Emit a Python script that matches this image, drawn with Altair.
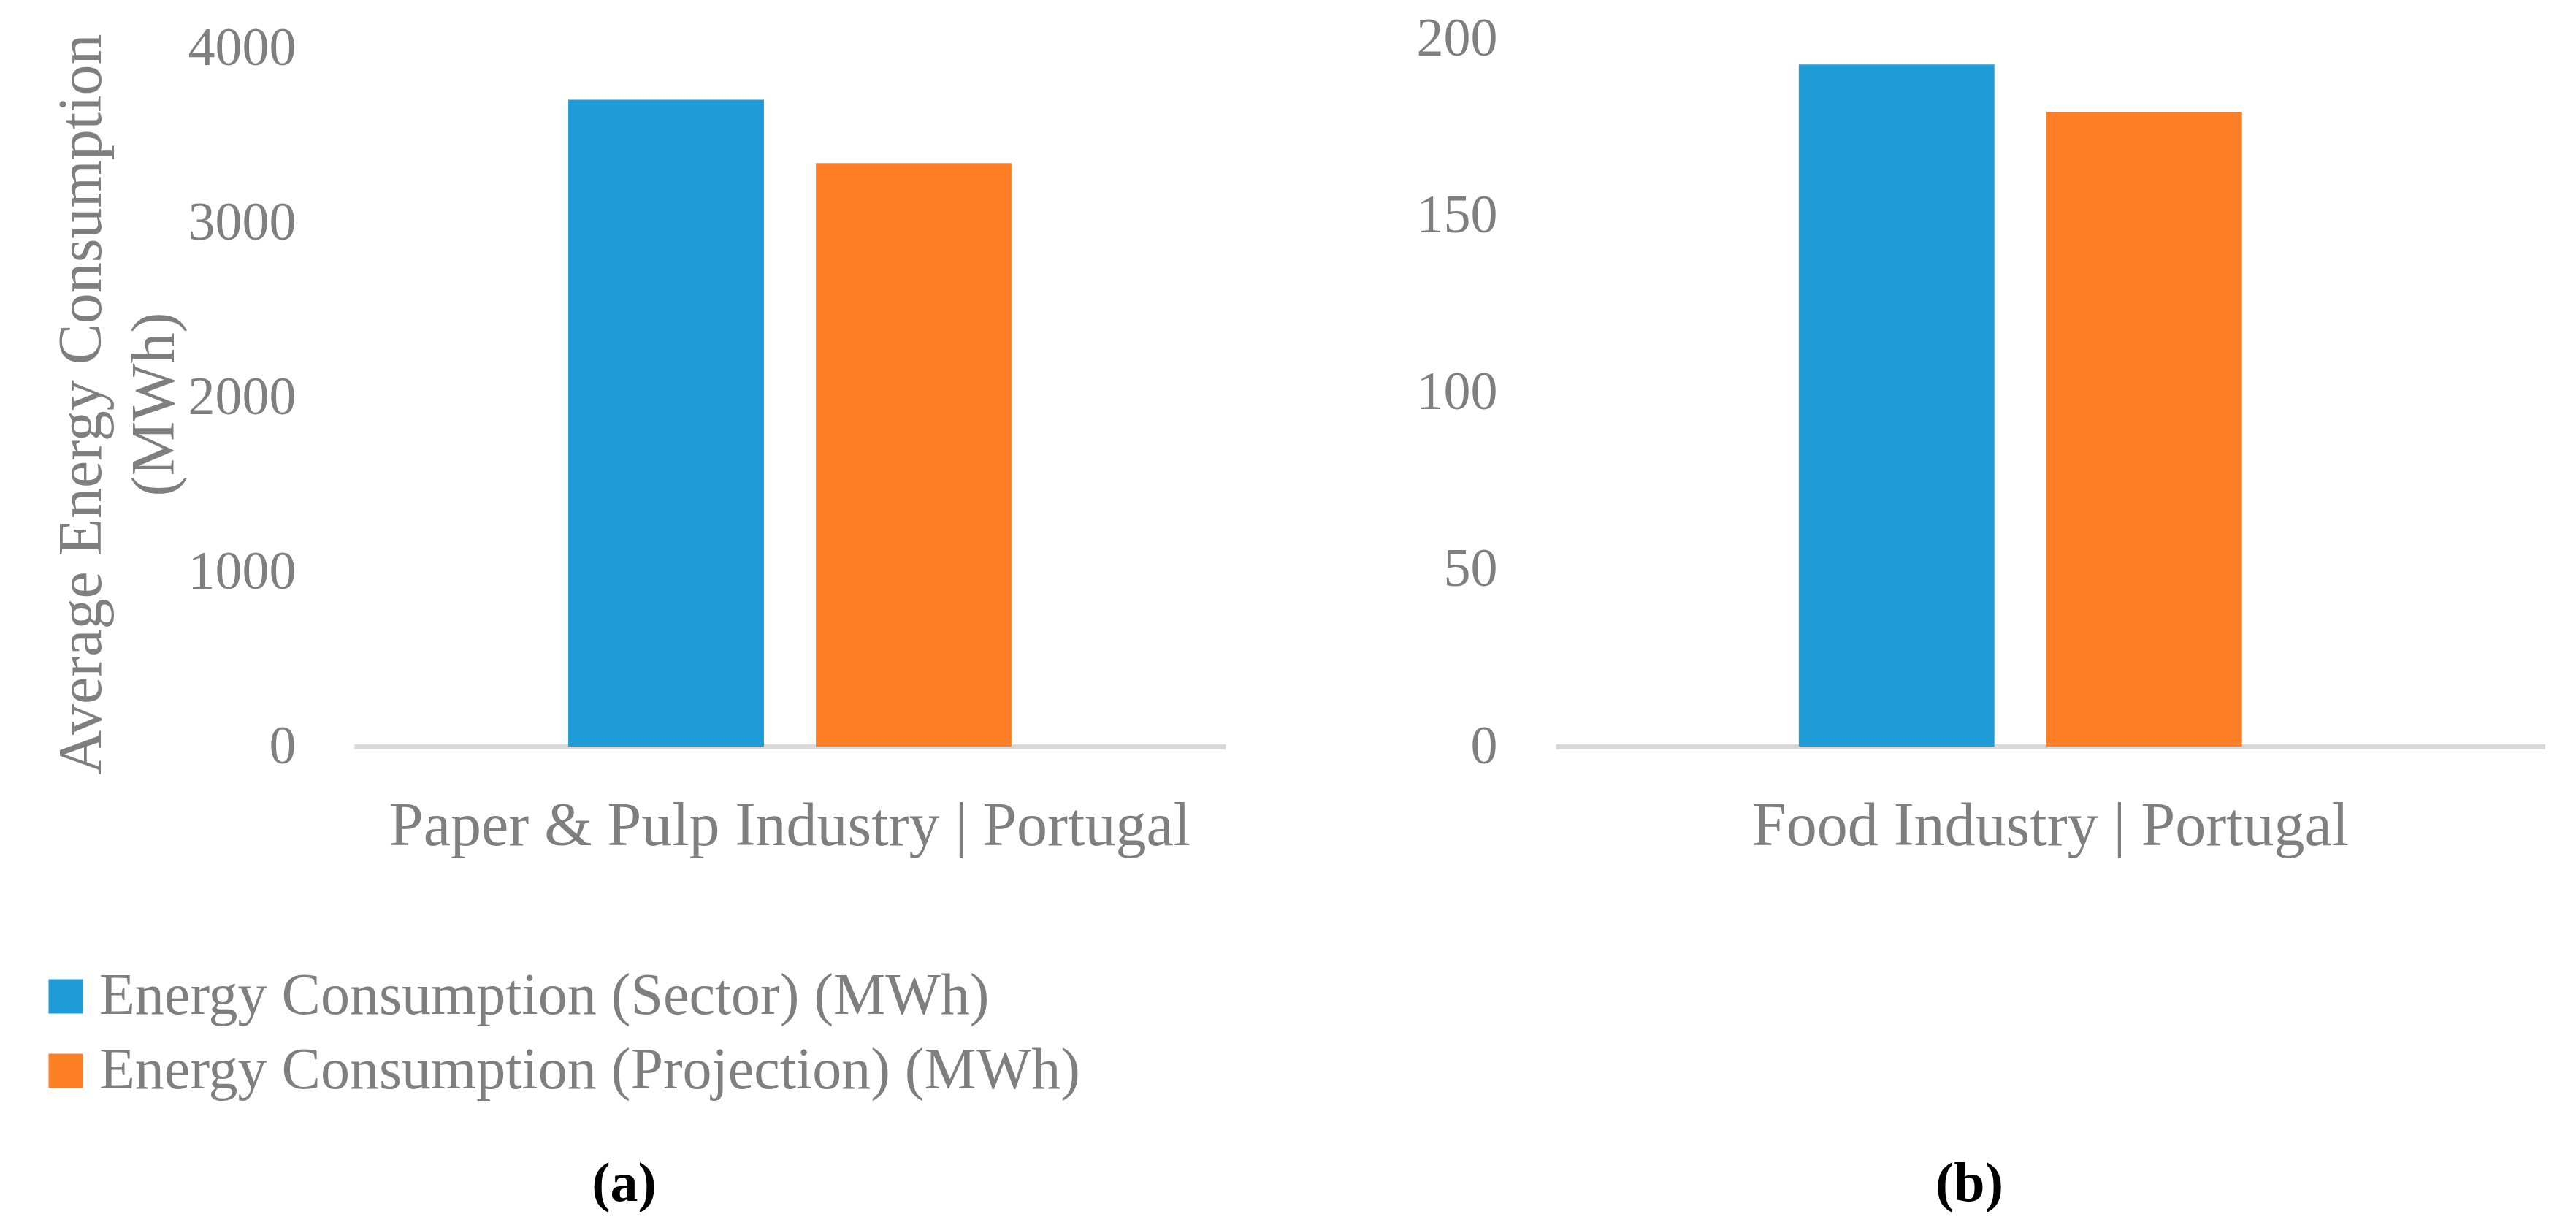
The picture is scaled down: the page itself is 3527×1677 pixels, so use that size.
import altair as alt
import pandas as pd

series = ["Energy Consumption (Sector) (MWh)", "Energy Consumption (Projection) (MWh)"]
colors = ["#1E9CD8", "#FF7F27"]

cat_a = "Paper & Pulp Industry | Portugal"
vals_a = [3707, 3343]
ticks_a = [0, 1000, 2000, 3000, 4000]
ymax_a = 4056

cat_b = "Food Industry | Portugal"
vals_b = [192.7, 179.3]
ticks_b = [0, 50, 100, 150, 200]
ymax_b = 200

GRAY = "#7F7F7F"
FONT = "Liberation Serif"

dfa = pd.DataFrame({"category": [cat_a] * 2, "series": series, "value": vals_a})
dfb = pd.DataFrame({"category": [cat_b] * 2, "series": series, "value": vals_b})

legend = alt.Legend(
    title=None, orient="none", legendX=-435, legendY=1271,
    symbolType="square", symbolSize=2209, symbolStrokeWidth=0,
    labelFontSize=80, labelFont=FONT, labelColor=GRAY, labelOffset=6,
    rowPadding=22, labelLimit=2000, direction="vertical",
)


def panel(df, ticks, ymax, width, ytitle, caption, dx):
    axis_args = dict(
        values=ticks, format="d", grid=False, domain=False, ticks=False,
        labelFontSize=74, labelPadding=80, labelColor=GRAY, labelFont=FONT,
    )
    if ytitle:
        yaxis = alt.Axis(
            title=ytitle, titleFontSize=84, titleFont=FONT, titleColor=GRAY,
            titleFontWeight="normal", titleLineHeight=100,
            titleX=-330, titleY=500, titleAngle=270, titleBaseline="bottom",
            titleAlign="center",
            **axis_args,
        )
    else:
        yaxis = alt.Axis(title=None, **axis_args)
    return alt.Chart(df).mark_bar().encode(
        x=alt.X(
            "category:N",
            scale=alt.Scale(paddingInner=0, paddingOuter=0.483),
            axis=alt.Axis(
                title=None, labelAngle=0, ticks=False, domainColor="#D9D9D9",
                domainWidth=7, labelFontSize=84, labelColor=GRAY, labelFont=FONT,
                labelPadding=68, labelLimit=3000,
            ),
        ),
        xOffset=alt.XOffset(
            "series:N", sort=series,
            scale=alt.Scale(paddingInner=0.21, paddingOuter=0),
        ),
        y=alt.Y("value:Q", scale=alt.Scale(domain=[0, ymax], nice=False), axis=yaxis),
        color=alt.Color("series:N", sort=series,
                        scale=alt.Scale(domain=series, range=colors), legend=legend),
    ).properties(
        width=width, height=969,
        title=alt.TitleParams(
            caption, orient="bottom", anchor="middle", frame="group", offset=411,
            dx=dx, font=FONT, fontSize=76, fontWeight="bold", color="black",
        ),
    )


a = panel(dfa, ticks_a, ymax_a, 1193, ["Average Energy Consumption", "(MWh)"], "(a)", -227)
b = panel(dfb, ticks_b, ymax_b, 1355, None, "(b)", -111)

chart = alt.hconcat(a, b, spacing=452, bounds="flush").properties(
    padding={"left": 42, "top": 8, "right": 0, "bottom": 0},
    background="white",
).configure_view(strokeWidth=0, stroke=None)

chart.save("out.html", embed_options={"renderer": "svg", "actions": False})
